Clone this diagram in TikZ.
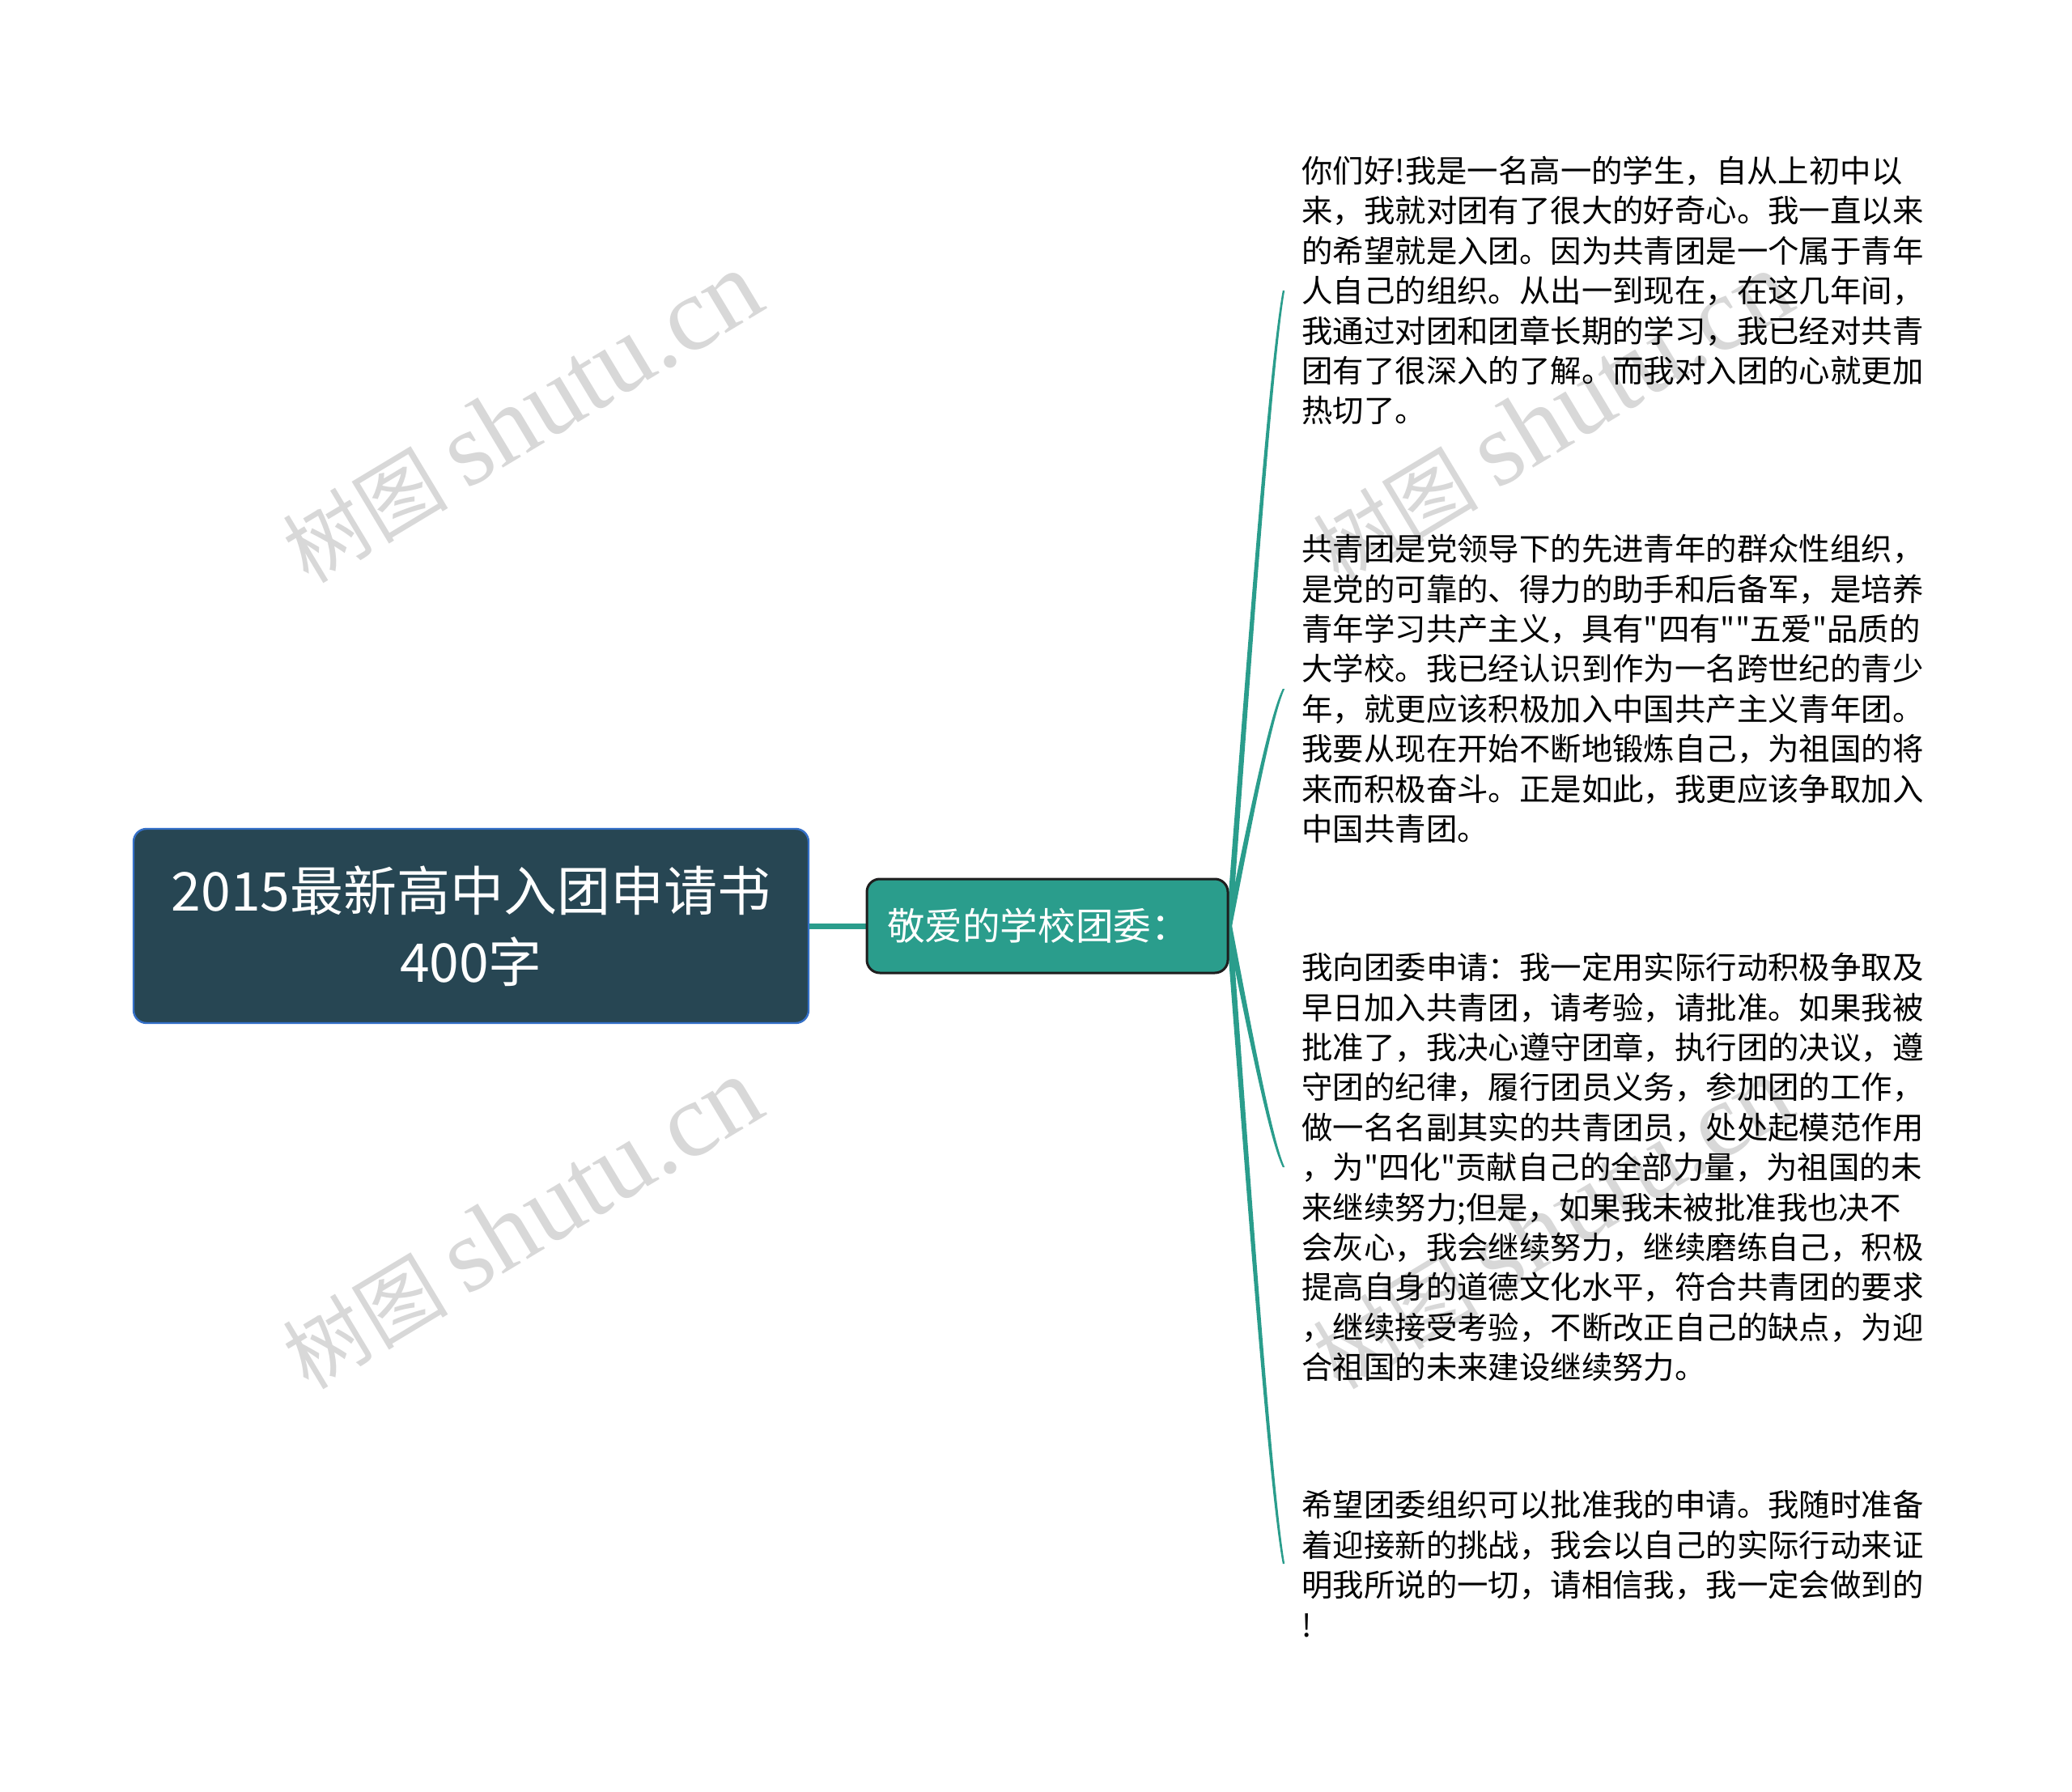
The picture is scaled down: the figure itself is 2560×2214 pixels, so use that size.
\documentclass[tikz,border=0pt]{standalone}
\usepackage{fontspec}
\setmainfont{Noto Sans CJK SC}[Ligatures=TeXOff]
\newfontfamily\wmlatin{Liberation Serif}
\usetikzlibrary{calc}
\pgfdeclarelayer{bg}
\pgfsetlayers{bg,main}
\definecolor{rootfill}{HTML}{274653}
\definecolor{rootline}{HTML}{3570C8}
\definecolor{tealc}{HTML}{2A9D8C}
\definecolor{midline}{HTML}{1E1E1E}
\definecolor{wmgray}{HTML}{D8D8D8}
\tikzset{
 rootbox/.style={draw=rootline, line width=1.2pt, fill=rootfill, rounded corners=8pt,
   minimum width=417pt, minimum height=120pt, text=white,
   font=\fontsize{33}{44}\selectfont, align=center, inner sep=0pt},
 midbox/.style={draw=midline, line width=1.5pt, fill=tealc, rounded corners=8pt,
   minimum height=58pt, text width=198pt, inner xsep=12.5pt, inner ysep=0pt,
   text=white, font=\fontsize{23.3}{28}\selectfont, align=left},
 leafbox/.style={anchor=west, inner xsep=11pt, inner ysep=0pt, align=left,
   font=\fontsize{19.2}{24.7}\selectfont, text=black},
 linkfill/.style={fill=tealc},
 rootlink/.style={draw=tealc, line width=3.5pt},
 wm/.style={text=wmgray, rotate=31, font=\fontsize{51}{51}\selectfont, inner sep=0pt},
}
\newcommand\wmtext{树图 {\wmlatin\fontsize{65}{65}\selectfont shutu.cn}}
\newcommand\mmlink[2]{%
  \fill[linkfill] let \p1=(#1.east), \p2=(#2.west), \n3={\x2-\x1}, \n4={\y2-\y1} in
    (\x1-1.8pt,\y1) .. controls (\x1+0.35*\n3-1.4pt,\y1+0.4*\n4) and (\x1+0.75*\n3-1.0pt,\y1+0.88*\n4) .. (\x2-0.6pt,\y2)
    -- (\x2+0.6pt,\y2) .. controls (\x1+0.75*\n3+1.0pt,\y1+0.88*\n4) and (\x1+0.35*\n3+1.4pt,\y1+0.4*\n4) .. (\x1+1.8pt,\y1) -- cycle;}
\begin{document}
\begin{tikzpicture}[x=0.5pt,y=-0.5pt]
\useasboundingbox (0,0) rectangle (2560,2214);

\node[rootbox] (root) at (582,1144) {2015最新高中入团申请书\\400字};
\node[midbox] (mid) at (1294,1144) {敬爱的学校团委：};

\node[leafbox] (b1) at (1586,359) {你们好!我是一名高一的学生，自从上初中以\\
来，我就对团有了很大的好奇心。我一直以来\\
的希望就是入团。因为共青团是一个属于青年\\
人自己的组织。从出一到现在，在这几年间，\\
我通过对团和团章长期的学习，我已经对共青\\
团有了很深入的了解。而我对入团的心就更加\\
热切了。};

\node[leafbox] (b2) at (1586,851) {共青团是党领导下的先进青年的群众性组织，\\
是党的可靠的、得力的助手和后备军，是培养\\
青年学习共产主义，具有"四有""五爱"品质的\\
大学校。我已经认识到作为一名跨世纪的青少\\
年，就更应该积极加入中国共产主义青年团。\\
我要从现在开始不断地锻炼自己，为祖国的将\\
来而积极奋斗。正是如此，我更应该争取加入\\
中国共青团。};

\node[leafbox] (b3) at (1586,1442) {我向团委申请：我一定用实际行动积极争取及\\
早日加入共青团，请考验，请批准。如果我被\\
批准了，我决心遵守团章，执行团的决议，遵\\
守团的纪律，履行团员义务，参加团的工作，\\
做一名名副其实的共青团员，处处起模范作用\\
，为"四化"贡献自己的全部力量，为祖国的未\\
来继续努力;但是，如果我未被批准我也决不\\
会灰心，我会继续努力，继续磨练自己，积极\\
提高自身的道德文化水平，符合共青团的要求\\
，继续接受考验，不断改正自己的缺点，为迎\\
合祖国的未来建设继续努力。};

\node[leafbox] (b4) at (1586,1932) {希望团委组织可以批准我的申请。我随时准备\\
着迎接新的挑战，我会以自己的实际行动来证\\
明我所说的一切，请相信我，我一定会做到的\\
!};

\begin{pgfonlayer}{bg}
\fill[white] (0,0) rectangle (2560,2214);
\node[wm] (wm1) at (645,516) {\wmtext};
\node[wm] (wm2) at (645,1512) {\wmtext};
\node[wm] (wm3) at (1918,516) {\wmtext};
\node[wm] (wm4) at (1918,1512) {\wmtext};
\draw[rootlink] (root.east) -- (mid.west);
\mmlink{mid}{b1}
\mmlink{mid}{b2}
\mmlink{mid}{b3}
\mmlink{mid}{b4}
\end{pgfonlayer}
\end{tikzpicture}
\end{document}
